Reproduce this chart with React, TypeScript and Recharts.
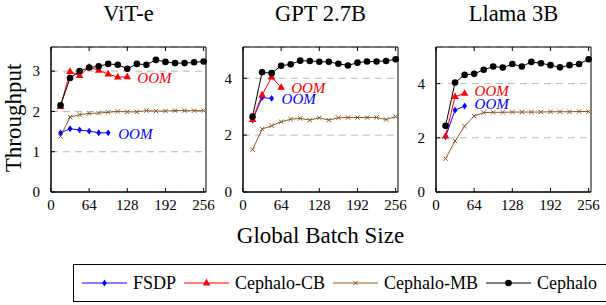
import { LineChart, Line, XAxis, YAxis, CartesianGrid, ReferenceArea } from "recharts";

const FONT = "'Liberation Serif', 'Times New Roman', serif";

// global batch sizes on the x axis
const batchSizes = [16, 32, 48, 64, 80, 96, 112, 128, 144, 160, 176, 192, 208, 224, 240, 256];
const xTicks = [0, 64, 128, 192, 256];

// ViT-e
const vitFsdp = [1.47, 1.57, 1.54, 1.51, 1.47, 1.47];
const vitCb = [2.12, 2.99, 2.89, 3.1, 3.02, 2.93, 2.85, 2.86];
const vitMb = [1.38, 1.86, 1.92, 1.95, 1.96, 1.98, 2.0, 1.99, 1.99, 2.02, 2.01, 2.01, 2.02, 2.02, 2.02, 2.02];
const vitCephalo = [2.15, 2.83, 3.0, 3.09, 3.12, 3.18, 3.16, 3.06, 3.18, 3.16, 3.28, 3.23, 3.2, 3.2, 3.22, 3.24];

// GPT 2.7B
const gptFsdp = [2.53, 3.32, 3.29];
const gptCb = [2.55, 3.41, 4.04, 3.68];
const gptMb = [1.49, 2.21, 2.33, 2.47, 2.56, 2.59, 2.53, 2.61, 2.53, 2.61, 2.62, 2.62, 2.62, 2.62, 2.55, 2.65];
const gptCephalo = [2.65, 4.21, 4.18, 4.44, 4.49, 4.62, 4.61, 4.58, 4.58, 4.51, 4.45, 4.55, 4.59, 4.59, 4.61, 4.67];

// Llama 3B
const llamaFsdp = [2.04, 3.02, 3.17];
const llamaCb = [2.06, 3.52, 3.64];
const llamaMb = [1.23, 1.88, 2.43, 2.8, 2.93, 2.94, 2.94, 2.95, 2.95, 2.95, 2.95, 2.96, 2.96, 2.96, 2.97, 2.97];
const llamaCephalo = [2.44, 4.04, 4.32, 4.36, 4.51, 4.63, 4.59, 4.72, 4.63, 4.8, 4.75, 4.68, 4.6, 4.68, 4.72, 4.9];

type Shape = "diamond" | "triangle" | "cross" | "circle";

const series: { key: string; name: string; color: string; shape: Shape; oom: boolean }[] = [
  { key: "fsdp", name: "FSDP", color: "#0000ff", shape: "diamond", oom: true },
  { key: "cb", name: "Cephalo-CB", color: "#ff0000", shape: "triangle", oom: true },
  { key: "mb", name: "Cephalo-MB", color: "#8b5a2b", shape: "cross", oom: false },
  { key: "cephalo", name: "Cephalo", color: "#000000", shape: "circle", oom: false },
];

function buildRows(fsdp: number[], cb: number[], mb: number[], cephalo: number[]) {
  return batchSizes.map((batch, i) => ({
    batch,
    fsdp: fsdp[i],
    cb: cb[i],
    mb: mb[i],
    cephalo: cephalo[i],
  }));
}

function Marker({ shape, color, x, y }: { shape: Shape; color: string; x: number; y: number }) {
  if (shape === "circle") return <circle cx={x} cy={y} r={3.3} fill={color} />;
  if (shape === "triangle")
    return <polygon points={`${x},${y - 4.2} ${x + 3.8},${y + 2.4} ${x - 3.8},${y + 2.4}`} fill={color} />;
  if (shape === "diamond")
    return <polygon points={`${x},${y - 3.4} ${x + 2.4},${y} ${x},${y + 3.4} ${x - 2.4},${y}`} fill={color} />;
  return (
    <g stroke={color} strokeWidth={1}>
      <line x1={x - 2.2} y1={y - 2.2} x2={x + 2.2} y2={y + 2.2} />
      <line x1={x - 2.2} y1={y + 2.2} x2={x + 2.2} y2={y - 2.2} />
    </g>
  );
}

const PLOT_W = 155;
const YW = 40;
const RM = 16;

type PanelProps = {
  title: string;
  rows: ReturnType<typeof buildRows>;
  counts: Record<string, number>;
  yMax: number;
  yTicks: number[];
  left: number;
  oomDy: number;
};

function Panel({ title, rows, counts, yMax, yTicks, left, oomDy }: PanelProps) {
  const tickStyle = { fontFamily: FONT, fontSize: 15, fill: "#000" };
  return (
    <div style={{ position: "absolute", left: left - YW, top: 0 }}>
      <div
        style={{
          position: "absolute",
          left: YW - 20,
          width: PLOT_W + 40,
          top: 3,
          textAlign: "center",
          fontFamily: FONT,
          fontSize: 22.5,
          lineHeight: "22.5px",
          whiteSpace: "nowrap",
        }}
      >
        {title}
      </div>
      <LineChart
        width={YW + PLOT_W + RM}
        height={222}
        data={rows}
        margin={{ top: 46, right: RM - 1, bottom: 0, left: 0 }}
      >
        <CartesianGrid horizontal vertical={false} stroke="#b8b8b8" strokeDasharray="7 5" />
        <XAxis
          dataKey="batch"
          type="number"
          domain={[0, 260]}
          ticks={xTicks}
          interval={0}
          height={30}
          stroke="#000"
          tickSize={-4}
          tickMargin={11}
          tick={tickStyle}
        />
        <XAxis
          xAxisId="top"
          orientation="top"
          dataKey="batch"
          type="number"
          domain={[0, 260]}
          ticks={xTicks}
          interval={0}
          height={1}
          stroke="#000"
          axisLine={false}
          tickSize={-4}
          tickFormatter={() => ""}
        />
        <YAxis
          type="number"
          domain={[0, yMax]}
          ticks={yTicks}
          interval={0}
          width={YW}
          stroke="#000"
          tickSize={-4}
          tickMargin={15}
          tick={tickStyle}
        />
        <YAxis
          yAxisId="right"
          orientation="right"
          type="number"
          domain={[0, yMax]}
          ticks={yTicks}
          interval={0}
          width={1}
          stroke="#000"
          axisLine={false}
          tickSize={-4}
          tickFormatter={() => ""}
        />
        <ReferenceArea x1={0} x2={260} y1={0} y2={yMax} fill="none" stroke="#000" strokeWidth={1} ifOverflow="visible" />
        {series.map((s) => {
          const last = counts[s.key] - 1;
          return (
            <Line
              key={s.key}
              dataKey={s.key}
              stroke={s.color}
              strokeWidth={1}
              isAnimationActive={false}
              connectNulls={false}
              activeDot={false}
              dot={(p: any) => {
                const { cx, cy, index, value } = p;
                if (cx == null || cy == null || value == null) return <g key={`${s.key}-${index}`} />;
                return (
                  <g key={`${s.key}-${index}`}>
                    <Marker shape={s.shape} color={s.color} x={cx} y={cy} />
                    {s.oom && index === last && (
                      <text
                        x={cx + 10}
                        y={cy + oomDy}
                        dominantBaseline="central"
                        fill={s.color}
                        fontFamily={FONT}
                        fontStyle="italic"
                        fontSize={15}
                      >
                        OOM
                      </text>
                    )}
                  </g>
                );
              }}
            />
          );
        })}
      </LineChart>
    </div>
  );
}

function LegendSample({ shape, color }: { shape: Shape; color: string }) {
  return (
    <svg width={45} height={14} style={{ display: "block" }}>
      <line x1={0} y1={7} x2={45} y2={7} stroke={color} strokeWidth={1} />
      <Marker shape={shape} color={color} x={22.5} y={7} />
    </svg>
  );
}

export default function App() {
  const panels = [
    {
      title: "ViT-e",
      rows: buildRows(vitFsdp, vitCb, vitMb, vitCephalo),
      counts: { fsdp: vitFsdp.length, cb: vitCb.length, mb: vitMb.length, cephalo: vitCephalo.length },
      yMax: 3.6,
      yTicks: [0, 1, 2, 3],
      left: 51,
      oomDy: 1,
    },
    {
      title: "GPT 2.7B",
      rows: buildRows(gptFsdp, gptCb, gptMb, gptCephalo),
      counts: { fsdp: gptFsdp.length, cb: gptCb.length, mb: gptMb.length, cephalo: gptCephalo.length },
      yMax: 5.1,
      yTicks: [0, 2, 4],
      left: 243,
      oomDy: 1,
    },
    {
      title: "Llama 3B",
      rows: buildRows(llamaFsdp, llamaCb, llamaMb, llamaCephalo),
      counts: { fsdp: llamaFsdp.length, cb: llamaCb.length, mb: llamaMb.length, cephalo: llamaCephalo.length },
      yMax: 5.35,
      yTicks: [0, 2, 4],
      left: 436,
      oomDy: -2,
    },
  ];

  return (
    <div
      style={{
        position: "absolute",
        left: 0,
        top: 0,
        width: 606,
        height: 305,
        overflow: "hidden",
        background: "#fff",
        fontFamily: FONT,
      }}
    >
      {panels.map((p) => (
        <Panel key={p.title} {...p} />
      ))}

      <svg width={606} height={305} style={{ position: "absolute", left: 0, top: 0, pointerEvents: "none" }}>
        <text x={21} y={118} transform="rotate(-90 21 118)" textAnchor="middle" fontFamily={FONT} fontSize={23}>
          Throughput
        </text>
        <text x={320.5} y={243} textAnchor="middle" fontFamily={FONT} fontSize={23}>
          Global Batch Size
        </text>
      </svg>

      <div
        style={{
          position: "absolute",
          left: 73,
          top: 264,
          width: 540,
          height: 38,
          border: "1px solid #000",
          display: "flex",
          alignItems: "center",
          paddingLeft: 8,
          boxSizing: "border-box",
        }}
      >
        {series.map((s) => (
          <div key={s.key} style={{ display: "flex", alignItems: "center", marginRight: 8 }}>
            <LegendSample shape={s.shape} color={s.color} />
            <span style={{ marginLeft: 6, fontSize: 18, lineHeight: "18px", whiteSpace: "nowrap" }}>{s.name}</span>
          </div>
        ))}
      </div>
    </div>
  );
}
